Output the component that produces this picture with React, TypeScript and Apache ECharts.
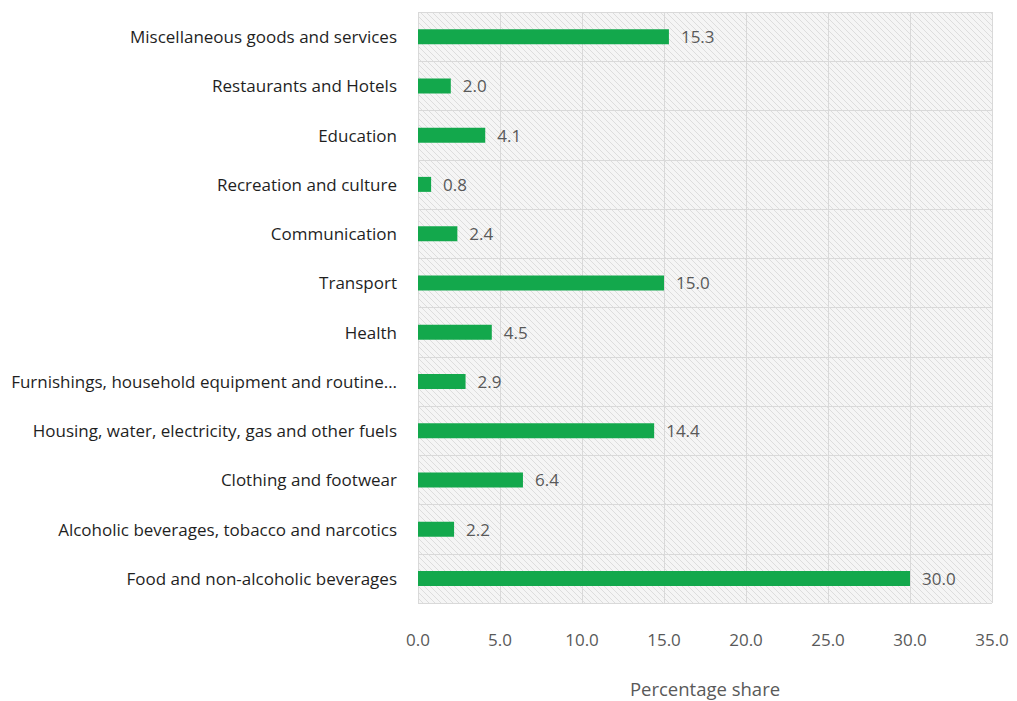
import React, { useEffect, useRef } from "react";
import * as echarts from "echarts";

const categories = [
  "Miscellaneous goods and services",
  "Restaurants and Hotels",
  "Education",
  "Recreation and culture",
  "Communication",
  "Transport",
  "Health",
  "Furnishings, household equipment and routine…",
  "Housing, water, electricity, gas and other fuels",
  "Clothing and footwear",
  "Alcoholic beverages, tobacco and narcotics",
  "Food and non-alcoholic beverages",
];
const values = [15.3, 2.0, 4.1, 0.8, 2.4, 15.0, 4.5, 2.9, 14.4, 6.4, 2.2, 30.0];
const xTicks = [0, 5, 10, 15, 20, 25, 30, 35];
const axisTitle = "Percentage share";

function makeHatch(): string {
  const c = document.createElement("canvas");
  c.width = 6;
  c.height = 6;
  const ctx = c.getContext("2d");
  if (!ctx) return "";
  ctx.fillStyle = "#f5f5f5";
  ctx.fillRect(0, 0, 6, 6);
  ctx.strokeStyle = "#dddddd";
  ctx.lineWidth = 1;
  ctx.beginPath();
  for (let k = -6; k <= 12; k += 6) {
    ctx.moveTo(k, 0);
    ctx.lineTo(k + 6, 6);
  }
  ctx.stroke();
  return c.toDataURL();
}

export default function App() {
  const ref = useRef<HTMLDivElement>(null);
  useEffect(() => {
    document.body.style.margin = "0";
    if (!ref.current) return;
    const chart = echarts.init(ref.current, null, { renderer: "svg" });
    const hatch = makeHatch();
    chart.setOption({
      animation: false,
      textStyle: { fontFamily: "Open Sans" },
      grid: {
        left: 418,
        right: 25,
        top: 12,
        bottom: 98,
        show: true,
        borderWidth: 0,
        outerBoundsMode: "none",
        containLabel: false,
        backgroundColor: hatch
          ? { image: hatch, repeat: "repeat", imageWidth: 6, imageHeight: 6 }
          : "#efefef",
      },
      xAxis: {
        type: "value",
        min: xTicks[0],
        max: xTicks[xTicks.length - 1],
        interval: 5,
        axisLine: { show: false },
        axisTick: { show: false },
        splitLine: { show: true, lineStyle: { color: "#d9d9d9", width: 1 } },
        axisLabel: {
          margin: 28,
          fontSize: 17,
          color: "#595959",
          fontFamily: "Open Sans",
          formatter: (v: number) => v.toFixed(1),
        },
        name: axisTitle,
        nameLocation: "middle",
        nameGap: 76,
        nameTextStyle: { fontSize: 18.5, color: "#595959", fontFamily: "Open Sans" },
      },
      yAxis: {
        type: "category",
        data: categories,
        inverse: true,
        axisLine: { show: false },
        axisTick: { show: false },
        splitLine: { show: true, lineStyle: { color: "#d9d9d9", width: 1 } },
        axisLabel: {
          margin: 21,
          fontSize: 17,
          color: "#1f1f1f",
          fontFamily: "Open Sans",
        },
      },
      series: [
        {
          type: "bar",
          data: values,
          barWidth: 15,
          itemStyle: { color: "#13a84c" },
          label: {
            show: true,
            position: "right",
            distance: 12,
            fontSize: 17,
            color: "#595959",
            fontFamily: "Open Sans",
            formatter: (p: any) => Number(p.value).toFixed(1),
          },
        },
      ],
    });
    return () => chart.dispose();
  }, []);
  return <div ref={ref} style={{ width: 1017, height: 701 }} />;
}
